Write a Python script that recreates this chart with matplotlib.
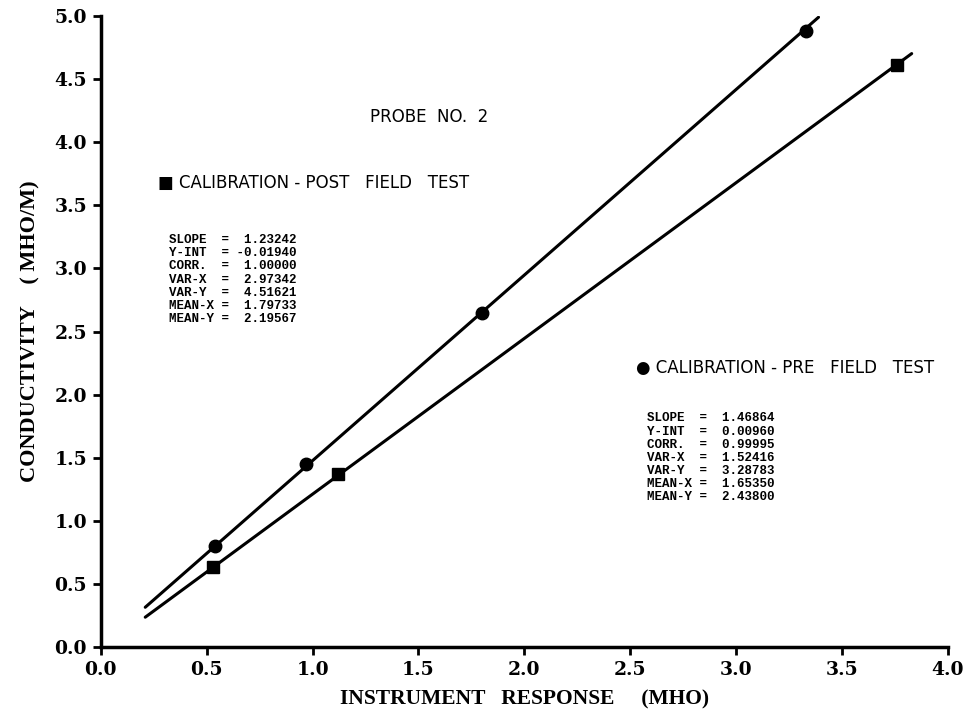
import numpy as np
import matplotlib
matplotlib.use("Agg")
import matplotlib.pyplot as plt

# calibration points
pre_x = [0.54, 0.97, 1.80, 3.33]
pre_y = [0.80, 1.45, 2.65, 4.88]
post_x = [0.53, 1.12, 3.76]
post_y = [0.64, 1.37, 4.61]

# fitted lines (slope, intercept) and their drawn x-extent
pre_fit = (1.46864, 0.00960)
post_fit = (1.23242, -0.01940)
pre_span = [0.21, 3.39]
post_span = [0.21, 3.83]

pre_stats = ["SLOPE  =  1.46864", "Y-INT  =  0.00960", "CORR.  =  0.99995",
             "VAR-X  =  1.52416", "VAR-Y  =  3.28783", "MEAN-X =  1.65350",
             "MEAN-Y =  2.43800"]
post_stats = ["SLOPE  =  1.23242", "Y-INT  = -0.01940", "CORR.  =  1.00000",
              "VAR-X  =  2.97342", "VAR-Y  =  4.51621", "MEAN-X =  1.79733",
              "MEAN-Y =  2.19567"]

xticks = [0.0, 0.5, 1.0, 1.5, 2.0, 2.5, 3.0, 3.5, 4.0]
yticks = [0.0, 0.5, 1.0, 1.5, 2.0, 2.5, 3.0, 3.5, 4.0, 4.5, 5.0]

fig = plt.figure(figsize=(9.69, 7.17), dpi=100)
ax = fig.add_axes([0.104, 0.097, 0.874, 0.881])

for (m, b), span in [(pre_fit, pre_span), (post_fit, post_span)]:
    xs = np.array(span)
    ax.plot(xs, m * xs + b, color="black", lw=2.2, solid_capstyle="round")

ax.plot(pre_x, pre_y, "o", color="black", ms=9)
ax.plot(post_x, post_y, "s", color="black", ms=8)

ax.set_xlim(0, 4.0)
ax.set_ylim(0, 5.0)
ax.set_xticks(xticks)
ax.set_yticks(yticks)
ax.set_xticklabels([f"{t:.1f}" for t in xticks], family="DejaVu Serif",
                   fontweight="bold", fontsize=13.5)
ax.set_yticklabels([f"{t:.1f}" for t in yticks], family="DejaVu Serif",
                   fontweight="bold", fontsize=13.5)
ax.tick_params(direction="out", length=6, width=2, pad=4)

for s in ["top", "right"]:
    ax.spines[s].set_visible(False)
for s in ["left", "bottom"]:
    ax.spines[s].set_linewidth(2.5)

ax.set_xlabel("INSTRUMENT   RESPONSE     (MHO)", family="Liberation Serif",
              fontweight="bold", fontsize=15.5, labelpad=7)
ax.set_ylabel("CONDUCTIVITY    ( MHO/M)", family="Liberation Serif",
              fontweight="bold", fontsize=16, labelpad=10)

ann = dict(family="DejaVu Sans", fontsize=12, color="black")
ax.text(1.55, 4.20, "PROBE  NO.  2", ha="center", va="center", **ann)
ax.text(0.27, 3.68, "\u25A0 CALIBRATION - POST   FIELD   TEST", ha="left",
        va="center", **ann)
ax.text(2.53, 2.21, "\u25CF CALIBRATION - PRE   FIELD   TEST", ha="left",
        va="center", **ann)

mono = dict(family="Liberation Mono", fontweight="bold", fontsize=9,
            linespacing=1.12, ha="left", va="top")
ax.text(0.32, 3.27, "\n".join(post_stats), **mono)
ax.text(2.58, 1.86, "\n".join(pre_stats), **mono)

fig.savefig("out.png", dpi=100)
